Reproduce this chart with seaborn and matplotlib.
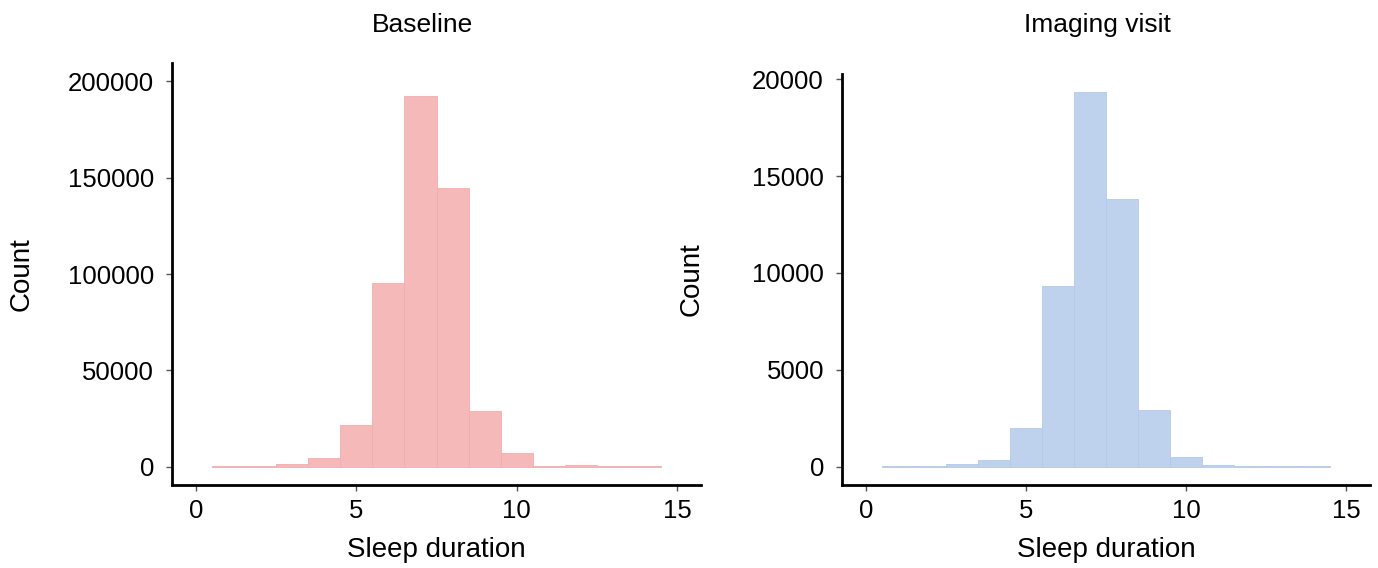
import matplotlib
matplotlib.use("Agg")
import matplotlib.pyplot as plt
import seaborn as sns
import numpy as np

# ---- data ----
bin_centers = [1, 2, 3, 4, 5, 6, 7, 8, 9, 10, 11, 12, 13, 14]
bin_edges = [0.5, 1.5, 2.5, 3.5, 4.5, 5.5, 6.5, 7.5, 8.5, 9.5, 10.5, 11.5, 12.5, 13.5, 14.5]
baseline_counts = [150, 500, 1200, 4400, 21800, 95500, 192300, 144800, 28900, 7000, 500, 1000, 150, 300]
imaging_counts = [30, 30, 120, 320, 1980, 9330, 19330, 13820, 2930, 490, 60, 50, 20, 20]
titles = ["Baseline", "Imaging visit"]
x_ticks = [0, 5, 10, 15]
baseline_yticks = [0, 50000, 100000, 150000, 200000]
imaging_yticks = [0, 5000, 10000, 15000, 20000]

sns.set_style("ticks")
plt.rcParams['font.family'] = ['Liberation Sans', 'DejaVu Sans']

fig = plt.figure(figsize=(13.78, 5.68), dpi=100)
W, H = 1378, 568
ax1 = fig.add_axes([172 / W, (H - 485) / H, 529 / W, 422 / H])
ax2 = fig.add_axes([842 / W, (H - 485) / H, 528 / W, 411 / H])

panels = [
    (ax1, baseline_counts, "#F6B9B9", "#F1ADAD", baseline_yticks, (-9500, 209600), titles[0], 423, 24),
    (ax2, imaging_counts, "#BED2ED", "#B4CAE8", imaging_yticks, (-950, 20270), titles[1], 1097, 34),
]

for ax, counts, fc, ec, yt, ylim, title, tx, lp in panels:
    sns.histplot(x=bin_centers, weights=counts, bins=bin_edges, ax=ax,
                 color=fc, alpha=1, edgecolor=ec, linewidth=0.6)
    ax.set_xlim(-0.75, 15.75)
    ax.set_ylim(*ylim)
    ax.set_xticks(x_ticks)
    ax.set_yticks(yt)
    ax.tick_params(axis='both', labelsize=18.5, length=4, width=1,
                   color="#555555", labelcolor="black", pad=9)
    ax.tick_params(axis='x', pad=6)
    for s in ["top", "right"]:
        ax.spines[s].set_visible(False)
    for s in ["left", "bottom"]:
        ax.spines[s].set_linewidth(2)
        ax.spines[s].set_color("black")
    ax.set_xlabel("Sleep duration", fontsize=20, labelpad=10, color="black")
    ax.set_ylabel("Count", fontsize=20, labelpad=lp, color="black")
    fig.text(tx / W, 1 - 25 / H, title, fontsize=19, ha="center", va="center", color="black")

fig.savefig("out.png", dpi=100)
